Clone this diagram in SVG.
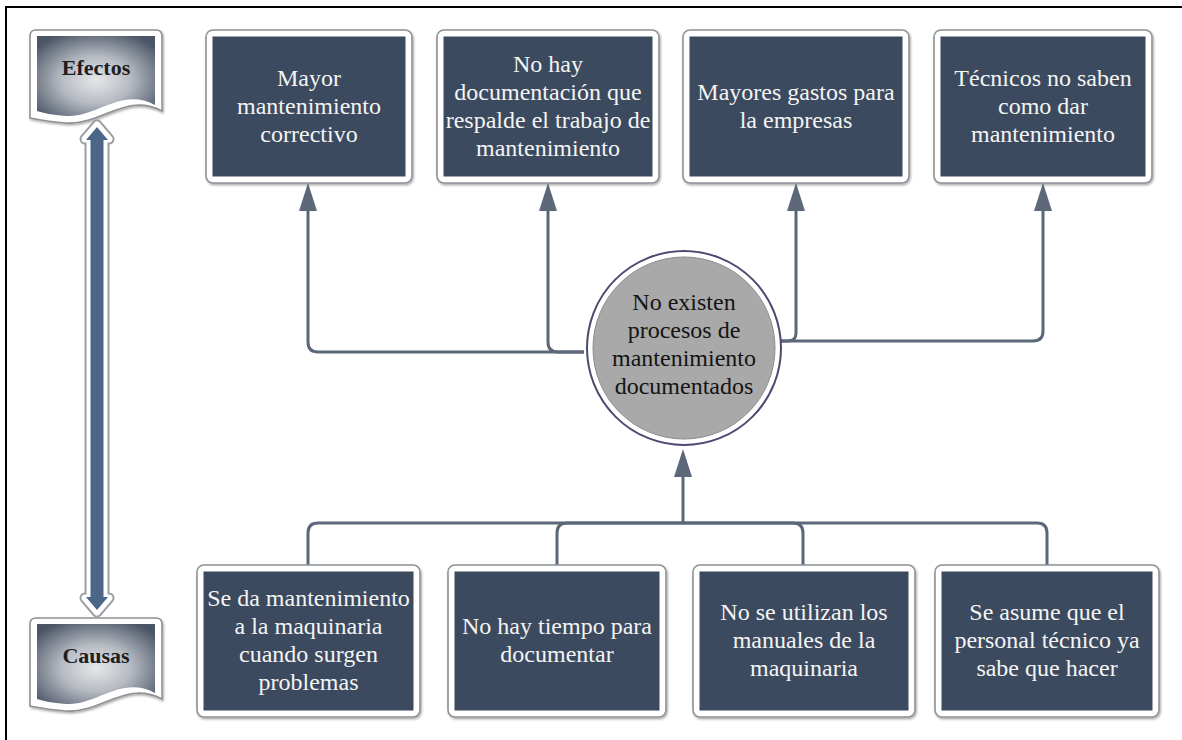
<svg xmlns="http://www.w3.org/2000/svg" width="1182" height="740" viewBox="0 0 1182 740">
<defs>
<style>
.frame{fill:#ffffff;stroke:#8e9196;stroke-width:1.6}
.inner{fill:#3b4a5e}
.bt{font-family:"Liberation Serif","Times New Roman",serif;font-size:24px;fill:#f4f4f4;text-anchor:middle}
.ct{font-family:"Liberation Serif","Times New Roman",serif;font-size:24px;fill:#141414;text-anchor:middle}
.lt{font-family:"Liberation Serif","Times New Roman",serif;font-size:22px;font-weight:bold;fill:#1e1e1e;text-anchor:middle}
.conn{fill:none;stroke:#5c6879;stroke-width:3}
</style>
<marker id="ah" markerUnits="userSpaceOnUse" markerWidth="28" markerHeight="20" refX="13" refY="10" orient="auto" viewBox="0 0 28 20">
<path d="M0,1 L28,10 L0,19 Z" fill="#5c6879"/>
</marker>
<radialGradient id="docg" cx="0.5" cy="0.55" r="0.65">
<stop offset="0" stop-color="#e6e7ea"/>
<stop offset="0.45" stop-color="#b7bbc2"/>
<stop offset="1" stop-color="#4a5566"/>
</radialGradient>
<filter id="sh" x="-5%" y="-5%" width="110%" height="110%">
<feDropShadow dx="1" dy="1.5" stdDeviation="1" flood-color="#000" flood-opacity="0.35"/>
</filter>
</defs>
<rect width="1182" height="740" fill="#ffffff"/>
<path d="M6,740 V7 H1182" fill="none" stroke="#000" stroke-width="2"/>

<g id="efectos">
<path d="M36,30 H156 Q162,30 162,36 V111 C126,92 102,125 66,123 C50,122 40,120 30,118 V36 Q30,30 36,30 Z" fill="#ffffff" stroke="#8e9196" stroke-width="1.6" filter="url(#sh)"/>
<path d="M37,36 H155 V105 C121,87 97,118 66,116 C52,115 44,113 37,111 Z" fill="url(#docg)"/>
<text class="lt" x="96" y="75">Efectos</text>
</g>
<g id="causas">
<path d="M36,618 H156 Q162,618 162,624 V699 C126,680 102,713 66,711 C50,710 40,708 30,706 V624 Q30,618 36,618 Z" fill="#ffffff" stroke="#8e9196" stroke-width="1.6" filter="url(#sh)"/>
<path d="M37,624 H155 V693 C121,675 97,706 66,704 C52,703 44,701 37,699 Z" fill="url(#docg)"/>
<text class="lt" x="96" y="663">Causas</text>
</g>
<g id="double-arrow">
<path d="M97,125 L109,139 L104,139 L104,598 L109,598 L97,612 L85,598 L90,598 L90,139 L85,139 Z" fill="#9a9da2" stroke="#9a9da2" stroke-width="11" stroke-linejoin="round"/>
<path d="M97,125 L109,139 L104,139 L104,598 L109,598 L97,612 L85,598 L90,598 L90,139 L85,139 Z" fill="#ffffff" stroke="#ffffff" stroke-width="7" stroke-linejoin="round"/>
<path d="M97,127 L108,140 L103.5,140 L103.5,597 L108,597 L97,610 L86,597 L90.5,597 L90.5,140 L86,140 Z" fill="#4c6688"/>
</g>

<g id="connectors">
<path class="conn" d="M584,352 H318 Q308,352 308,342 V198" marker-end="url(#ah)"/>
<path class="conn" d="M584,352 H558 Q548,352 548,342 V198" marker-end="url(#ah)"/>
<path class="conn" d="M781,341 H788 Q796,341 796,333 V198" marker-end="url(#ah)"/>
<path class="conn" d="M781,341 H1033 Q1043,341 1043,331 V198" marker-end="url(#ah)"/>
<path class="conn" d="M683,523 V464" marker-end="url(#ah)"/>
<path class="conn" d="M683,523 H318 Q308,523 308,533 V565"/>
<path class="conn" d="M683,523 H567 Q557,523 557,533 V565"/>
<path class="conn" d="M683,523 H793 Q803,523 803,533 V565"/>
<path class="conn" d="M683,523 H1037 Q1047,523 1047,533 V565"/>
</g>

<g id="efecto1">
<rect class="frame" x="206" y="30" width="206" height="153" rx="7" filter="url(#sh)"/>
<rect class="inner" x="212.5" y="36.5" width="193" height="140"/>
<text class="bt" x="309"><tspan x="309" y="86">Mayor</tspan><tspan x="309" y="114">mantenimiento</tspan><tspan x="309" y="142">correctivo</tspan></text>
</g>
<g id="efecto2">
<rect class="frame" x="437" y="30" width="222" height="153" rx="7" filter="url(#sh)"/>
<rect class="inner" x="443.5" y="36.5" width="209" height="140"/>
<text class="bt" x="548"><tspan x="548" y="72">No hay</tspan><tspan x="548" y="100">documentación que</tspan><tspan x="548" y="128">respalde el trabajo de</tspan><tspan x="548" y="156">mantenimiento</tspan></text>
</g>
<g id="efecto3">
<rect class="frame" x="683" y="30" width="226" height="153" rx="7" filter="url(#sh)"/>
<rect class="inner" x="689.5" y="36.5" width="213" height="140"/>
<text class="bt" x="796"><tspan x="796" y="100">Mayores gastos para</tspan><tspan x="796" y="128">la empresas</tspan></text>
</g>
<g id="efecto4">
<rect class="frame" x="934" y="30" width="218" height="153" rx="7" filter="url(#sh)"/>
<rect class="inner" x="940.5" y="36.5" width="205" height="140"/>
<text class="bt" x="1043"><tspan x="1043" y="86">Técnicos no saben</tspan><tspan x="1043" y="114">como dar</tspan><tspan x="1043" y="142">mantenimiento</tspan></text>
</g>

<g id="problema">
<circle cx="684" cy="348" r="97" fill="#ffffff" stroke="#4b4b72" stroke-width="2"/>
<circle cx="684" cy="348" r="91" fill="#a9a9a9" stroke="#8c8c90" stroke-width="1"/>
<text class="ct" x="684"><tspan x="684" y="310">No existen</tspan><tspan x="684" y="338">procesos de</tspan><tspan x="684" y="366">mantenimiento</tspan><tspan x="684" y="394">documentados</tspan></text>
</g>

<g id="causa1">
<rect class="frame" x="197" y="565" width="223" height="152" rx="7" filter="url(#sh)"/>
<rect class="inner" x="203.5" y="571.5" width="210" height="139"/>
<text class="bt" x="308.5"><tspan x="308.5" y="606">Se da mantenimiento</tspan><tspan x="308.5" y="634">a la maquinaria</tspan><tspan x="308.5" y="662">cuando surgen</tspan><tspan x="308.5" y="690">problemas</tspan></text>
</g>
<g id="causa2">
<rect class="frame" x="448" y="565" width="218" height="152" rx="7" filter="url(#sh)"/>
<rect class="inner" x="454.5" y="571.5" width="205" height="139"/>
<text class="bt" x="557"><tspan x="557" y="634">No hay tiempo para</tspan><tspan x="557" y="662">documentar</tspan></text>
</g>
<g id="causa3">
<rect class="frame" x="693" y="565" width="222" height="152" rx="7" filter="url(#sh)"/>
<rect class="inner" x="699.5" y="571.5" width="209" height="139"/>
<text class="bt" x="804"><tspan x="804" y="620">No se utilizan los</tspan><tspan x="804" y="648">manuales de la</tspan><tspan x="804" y="676">maquinaria</tspan></text>
</g>
<g id="causa4">
<rect class="frame" x="935" y="565" width="224" height="152" rx="7" filter="url(#sh)"/>
<rect class="inner" x="941.5" y="571.5" width="211" height="139"/>
<text class="bt" x="1047"><tspan x="1047" y="620">Se asume que el</tspan><tspan x="1047" y="648">personal técnico ya</tspan><tspan x="1047" y="676">sabe que hacer</tspan></text>
</g>
</svg>
